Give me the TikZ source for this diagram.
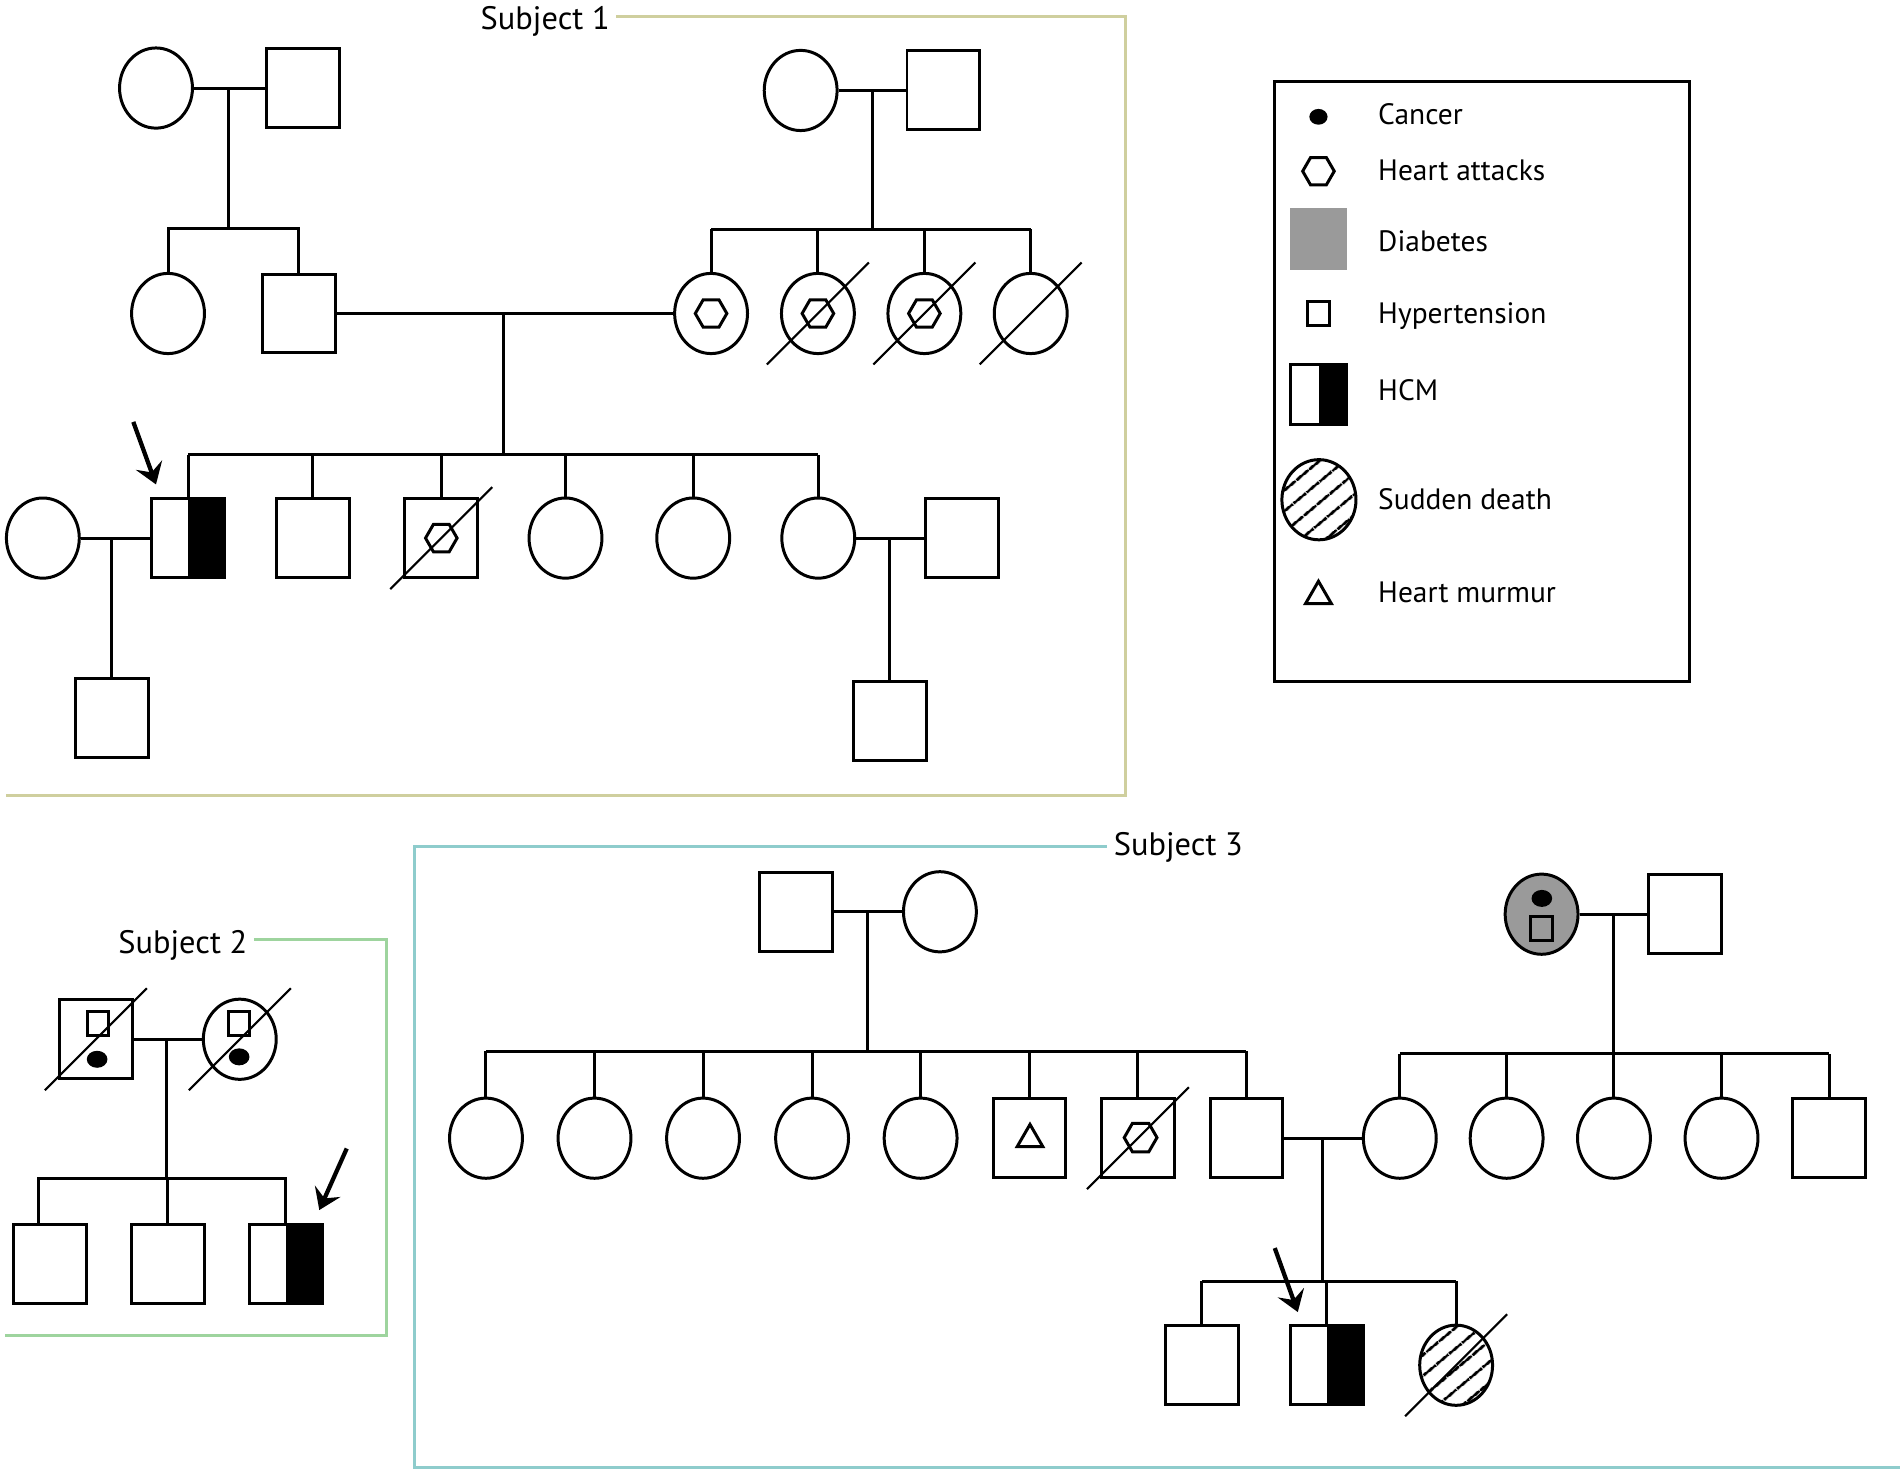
\documentclass[tikz,border=0pt]{standalone}
\usepackage{fontspec}
\setmainfont{PT Sans}
\usetikzlibrary{shapes.geometric,arrows.meta,patterns.meta}
\definecolor{frameone}{RGB}{207,207,158}
\definecolor{frametwo}{RGB}{158,212,158}
\definecolor{framethree}{RGB}{142,204,204}
\definecolor{diabgray}{RGB}{154,154,154}
\newcommand{\deceased}[1]{\draw [line width=0.5pt] ([shift={(-42,42)}]#1.center) -- ([shift={(42,-42)}]#1.center);}
\begin{document}
\begin{tikzpicture}[x=0.01cm, y=-0.01cm, line width=0.7pt,
    male/.style={draw, rectangle, minimum width=0.6cm, minimum height=0.65cm, inner sep=0pt},
    female/.style={draw, ellipse, minimum width=0.6cm, minimum height=0.66cm, inner sep=0pt},
    hcm/.style={male, path picture={\fill [black] (path picture bounding box.north) rectangle (path picture bounding box.south east);}},
    sudden/.style={female, pattern={Lines[angle=40,distance=4pt,line width=0.75pt]}},
    diab/.style={female, fill=diabgray},
    hexa/.style={draw, regular polygon, regular polygon sides=6, minimum size=0.26cm, inner sep=0pt},
    tri/.style={draw, regular polygon, regular polygon sides=3, minimum size=0.245cm, inner sep=0pt},
    hyper/.style={draw, rectangle, minimum width=0.18cm, minimum height=0.19cm, inner sep=0pt},
    cancer/.style={fill, ellipse, minimum width=0.15cm, minimum height=0.13cm, inner sep=0pt},
    proband/.style={-{Stealth[length=4.8pt,width=6.5pt,inset=1.8pt]}, line width=1pt},
    legtext/.style={font=\fontsize{6.9}{8}\selectfont, inner sep=0pt, anchor=base west},
    subjtext/.style={font=\fontsize{7.6}{9}\selectfont, inner xsep=1.2pt, inner ysep=0pt, anchor=base west},
    frameline/.style={line width=0.7pt}]
\useasboundingbox (0,0) rectangle (1565,1211.7);

\node [subjtext] (t1) at (390.5,24.2) {Subject 1};
\coordinate (f1) at (927,13.2);
\draw [frameline, frameone] (t1.east |- f1) -- (f1) -- (927,655) -- (5,655);

\node [female] (s1gm1) at (128.5,72.5) {};
\node [male] (s1gf1) at (249.7,72.5) {};
\node [female] (s1gm2) at (659.5,74.5) {};
\node [male] (s1gf2) at (777.1,74.5) {};
\draw (s1gm1) -- (s1gf1);
\draw (s1gm2) -- (s1gf2);
\coordinate (s1u1) at (188.5,72.5);
\coordinate (s1k1) at (188.5,188.4);
\coordinate (s1u2) at (718.8,74.5);
\coordinate (s1k2) at (718.8,189);
\draw (s1u1) -- (s1k1);
\draw (s1u2) -- (s1k2);

\node [female] (s1aunt) at (138.4,258.2) {};
\node [male] (s1dad) at (246,258.2) {};
\draw (s1aunt.north) -- (s1aunt.north |- s1k1) -- (s1dad.north |- s1k1) -- (s1dad.north);
\foreach \n/\x in {s1m/585.7, s1c1/673.7, s1c2/761.4, s1c3/849}
    \node [female] (\n) at (\x,258.2) {};
\foreach \n in {s1m,s1c1,s1c2}
    \node [hexa] (h\n) at (\n) {};
\foreach \n in {s1c1,s1c2,s1c3} {\deceased{\n}}
\draw (s1m.north |- s1k2) -- (s1c3.north |- s1k2);
\foreach \n in {s1m,s1c1,s1c2,s1c3}
    \draw (\n.north) -- (\n.north |- s1k2);

\draw (s1dad) -- (s1m);
\coordinate (s1u3) at (414.5,258.2);
\coordinate (s1k3) at (414.5,374.5);
\draw (s1u3) -- (s1k3);

\node [hcm] (s1p) at (155,443.2) {};
\node [male] (s1b1) at (257.7,443.2) {};
\node [male] (s1b2) at (363.5,443.2) {};
\node [hexa] (hs1b2) at (s1b2) {};
\deceased{s1b2}
\foreach \n/\x in {s1s1/465.8, s1s2/571, s1s3/674}
    \node [female] (\n) at (\x,443.2) {};
\draw (s1p.north |- s1k3) -- (s1s3.north |- s1k3);
\foreach \n in {s1p,s1b1,s1b2,s1s1,s1s2,s1s3}
    \draw (\n.north) -- (\n.north |- s1k3);
\node [female] (s1w) at (35.3,443.2) {};
\node [male] (s1h) at (792.2,443.2) {};
\draw (s1w) -- (s1p);
\draw (s1s3) -- (s1h);
\node [male] (s1son) at (92,591.7) {};
\node [male] (s1nep) at (733,593.8) {};
\draw (s1son.north) -- (s1son.north |- s1w);
\draw (s1nep.north) -- (s1nep.north |- s1s3);
\coordinate (s1a0) at (109.8,347.5);
\coordinate (s1a1) at (128.5,399);
\draw [proband] (s1a0) -- (s1a1);

\draw (1049.5,67) rectangle (1392,561);
\node [cancer] (lg1) at (1086,96.2) {};
\node [hexa] (lg2) at (1086,141) {};
\node [fill=diabgray, minimum width=0.467cm, minimum height=0.508cm, inner sep=0pt] (lg3) at (1086,197) {};
\node [hyper] (lg4) at (1086,258.2) {};
\node [hcm, minimum width=0.46cm, minimum height=0.494cm] (lg5) at (1086.2,325) {};
\node [sudden, minimum width=0.61cm] (lg6) at (1086.4,411.6) {};
\node [tri] (lg7) at (1086,491) {};
\node [legtext] (lt1) at (1134,102.3) {Cancer};
\node [legtext] (lt2) at (1134,148.4) {Heart attacks};
\node [legtext] (lt3) at (1134,207.1) {Diabetes};
\node [legtext] (lt4) at (1134,266.1) {Hypertension};
\node [legtext] (lt5) at (1134,329.9) {HCM};
\node [legtext] (lt6) at (1134,419.7) {Sudden death};
\node [legtext] (lt7) at (1134,496.5) {Heart murmur};

\node [subjtext] (t2) at (92,785.3) {Subject 2};
\coordinate (f2) at (318,773.5);
\draw [frameline, frametwo] (t2.east |- f2) -- (f2) -- (318,1099.7) -- (4,1099.7);

\node [male] (s2gf) at (79,856) {};
\node [hyper, minimum width=0.17cm] (ys2gf) at (80.5,843) {};
\node [cancer, minimum width=0.17cm, minimum height=0.14cm] (cs2gf) at (80,872.5) {};
\node [female] (s2gm) at (197.5,856) {};
\node [hyper, minimum width=0.17cm] (ys2gm) at (197,843) {};
\node [cancer, minimum width=0.17cm, minimum height=0.14cm] (cs2gm) at (197,870.5) {};
\deceased{s2gf}
\deceased{s2gm}
\draw (s2gf) -- (s2gm);
\coordinate (s2u) at (137.5,856);
\coordinate (s2k) at (137.5,971);
\draw (s2u) -- (s2k);
\node [male] (s2c1) at (41,1041.5) {};
\node [male] (s2c2) at (138.3,1041.5) {};
\node [hcm] (s2p) at (235.5,1041.5) {};
\coordinate (s2d1) at (32,971);
\draw (s2d1 |- s2c1.north) -- (s2d1) -- (s2p.north |- s2k) -- (s2p.north);
\draw (s2c2.north) -- (s2c2.north |- s2k);
\coordinate (s2a0) at (285.6,946);
\coordinate (s2a1) at (263,996.7);
\draw [proband] (s2a0) -- (s2a1);

\node [subjtext] (t3) at (912,705) {Subject 3};
\coordinate (f3) at (341.5,697);
\draw [frameline, framethree] (t3.west |- f3) -- (f3) -- (341.5,1209) -- (1565,1209);

\node [male] (s3gf1) at (656,751) {};
\node [female] (s3gm1) at (774.2,751) {};
\draw (s3gf1) -- (s3gm1);
\coordinate (s3u1) at (714.5,751);
\coordinate (s3k1) at (714.5,866);
\draw (s3u1) -- (s3k1);
\foreach \n/\x in {s3a1/400.3, s3a2/489.7, s3a3/579.1, s3a4/668.9, s3a5/758.3}
    \node [female] (\n) at (\x,937.5) {};
\node [male] (s3a6) at (848,937.5) {};
\node [tri, minimum size=0.243cm] (ts3a6) at (848.4,938.3) {};
\node [male] (s3a7) at (937.3,937.5) {};
\node [hexa, minimum size=0.27cm] (hs3a7) at (939.5,937) {};
\deceased{s3a7}
\node [male] (s3dad) at (1026.7,937.5) {};
\draw (s3a1.north |- s3k1) -- (s3dad.north |- s3k1);
\foreach \n in {s3a1,s3a2,s3a3,s3a4,s3a5,s3a6,s3a7,s3dad}
    \draw (\n.north) -- (\n.north |- s3k1);

\node [diab] (s3gm2) at (1269.8,753) {};
\node [cancer, minimum width=0.17cm, minimum height=0.14cm] (cs3gm2) at (1270,740) {};
\node [hyper, minimum width=0.18cm, minimum height=0.2cm] (ys3gm2) at (1269.4,764.7) {};
\node [male] (s3gf2) at (1388,753) {};
\draw (s3gm2) -- (s3gf2);
\coordinate (s3u2) at (1329,753);
\coordinate (s3k2) at (1329,868);
\draw (s3u2) -- (s3k2);
\foreach \n/\x in {s3b1/1153, s3b2/1241, s3b3/1329.4, s3b4/1418}
    \node [female] (\n) at (\x,937.5) {};
\node [male] (s3b5) at (1506.7,937.5) {};
\draw (s3b1.north |- s3k2) -- (s3b5.north |- s3k2);
\foreach \n in {s3b1,s3b2,s3b3,s3b4,s3b5}
    \draw (\n.north) -- (\n.north |- s3k2);

\draw (s3dad) -- (s3b1);
\coordinate (s3u3) at (1089,937.5);
\coordinate (s3k3) at (1089,1055.5);
\draw (s3u3) -- (s3k3);
\node [male] (s3c1) at (990,1124.5) {};
\node [hcm] (s3p) at (1093,1124.5) {};
\node [sudden] (s3c3) at (1199.4,1124.5) {};
\deceased{s3c3}
\draw (s3c1.north |- s3k3) -- (s3c3.north |- s3k3);
\foreach \n in {s3c1,s3p,s3c3}
    \draw (\n.north) -- (\n.north |- s3k3);
\coordinate (s3a0) at (1050,1028);
\coordinate (s3a1) at (1069,1080.7);
\draw [proband] (s3a0) -- (s3a1);
\end{tikzpicture}
\end{document}
